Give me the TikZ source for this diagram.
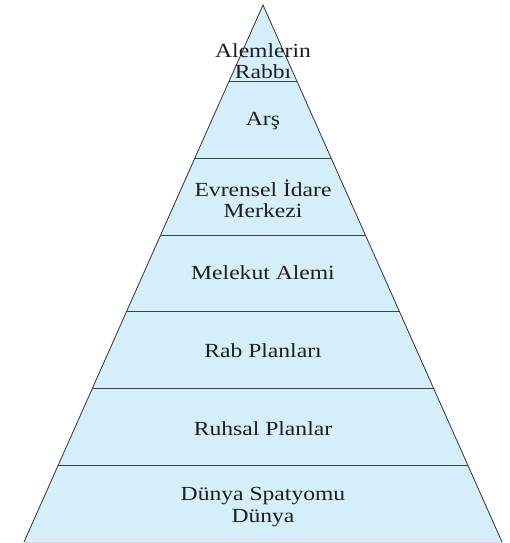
\documentclass[tikz,border=0pt]{standalone}
\usepackage{fontspec}
\setmainfont[FakeStretch=1.18]{Liberation Serif}
\begin{document}
\begin{tikzpicture}[x=1pt,y=1pt,
  layer/.style={font=\fontsize{20}{21.5}\selectfont, text=black!88, align=center, inner sep=0pt},
  edge/.style={draw=black!80, line width=0.8pt},
  divider/.style={draw=black!75, line width=0.8pt}]
\definecolor{pyrfill}{HTML}{D4EEFA}
\useasboundingbox (0,0) rectangle (509,543);
% apex (263,538), base (24,1)-(502,1)
\coordinate (apex) at (263,538);
\coordinate (bl) at (24,1);
\coordinate (br) at (502,1);
\fill[pyrfill] (apex) -- (br) -- (bl) -- cycle;
\draw[pyrfill!70!black!40, line width=0.6pt] (bl) -- (br);
\foreach \k in {1,...,6}{
  \pgfmathsetmacro{\yi}{5+76.714*\k}
  \pgfmathsetmacro{\hw}{0.44507*(\yi-5)}
  \draw[divider] ({263-\hw},{543-\yi}) -- ({263+\hw},{543-\yi});
}
\draw[edge] (bl) -- (apex) -- (br);
\node[layer] (l1) at (263,{543-61}) {Alemlerin\\Rabbı};
\node[layer] (l2) at (263,{543-121}) {Arş};
\node[layer] (l3) at (263,{543-199}) {Evrensel İdare\\Merkezi};
\node[layer] (l4) at (263,{543-273}) {Melekut Alemi};
\node[layer] (l5) at (263,{543-351}) {Rab Planları};
\node[layer] (l6) at (263,{543-429}) {Ruhsal Planlar};
\node[layer] (l7) at (263,{543-507}) {Dünya Spatyomu\\Dünya};
\end{tikzpicture}
\end{document}
